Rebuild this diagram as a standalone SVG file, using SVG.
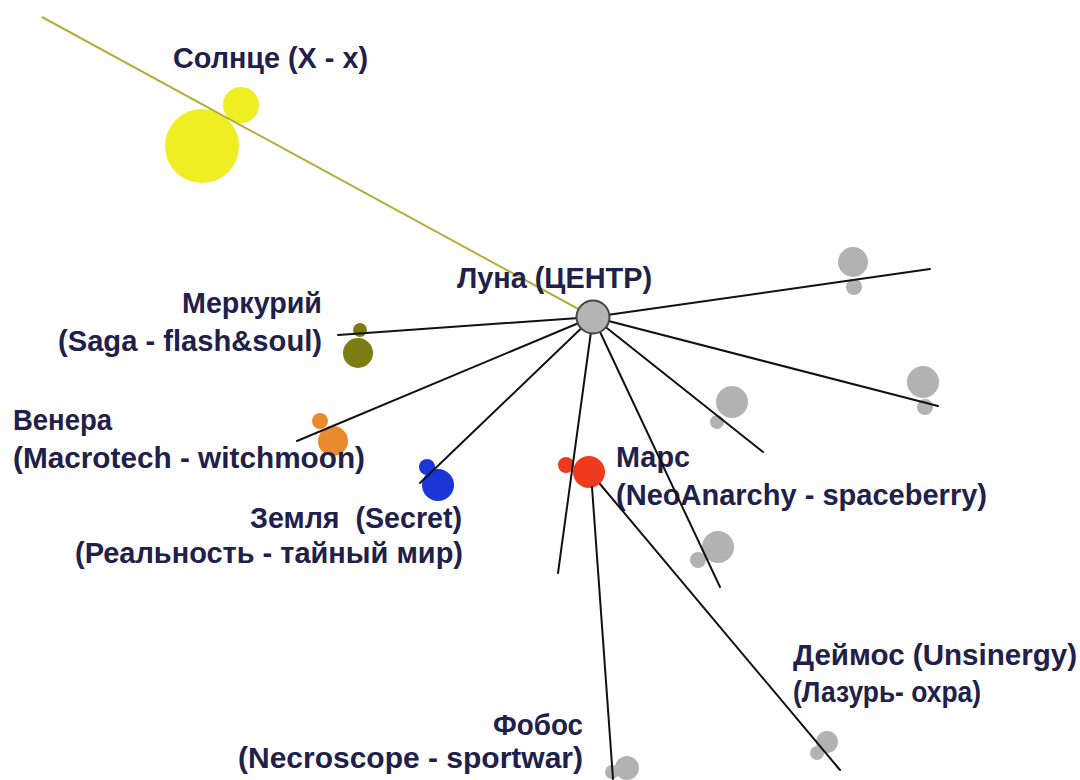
<svg xmlns="http://www.w3.org/2000/svg" width="1080" height="780" viewBox="0 0 1080 780">
<style>
text{font-family:"Liberation Sans",Arial,sans-serif;font-weight:bold;font-size:29px;fill:#20204a;white-space:pre}
.gray{fill:#b2b2b2}
.ln{stroke:#111;stroke-width:2;fill:none;stroke-linecap:round}
</style>
<rect width="1080" height="780" fill="#ffffff"/>
<g id="sun">
<circle cx="241" cy="105" r="18" fill="#eeee22"/>
<ellipse cx="202" cy="146" rx="37" ry="37" fill="#eeee22"/>
<text x="173" y="68" textLength="195" lengthAdjust="spacingAndGlyphs">Солнце (X - x)</text>
</g>
<g id="mercury">
<circle cx="360" cy="330" r="7" fill="#7b7d12"/>
<circle cx="358" cy="353" r="15" fill="#7b7d12"/>
<text x="182" y="313" textLength="140" lengthAdjust="spacingAndGlyphs">Меркурий</text>
<text x="58" y="351" textLength="264" lengthAdjust="spacingAndGlyphs">(Saga - flash&amp;soul)</text>
</g>
<g id="venus">
<circle cx="320" cy="421" r="8" fill="#e88a2e"/>
<circle cx="333" cy="441" r="15" fill="#e88a2e"/>
<text x="13" y="430" textLength="99" lengthAdjust="spacingAndGlyphs">Венера</text>
<text x="13" y="468" textLength="352" lengthAdjust="spacingAndGlyphs">(Macrotech - witchmoon)</text>
</g>
<g id="earth">
<circle cx="427" cy="467" r="8" fill="#1a35d8"/>
<circle cx="438" cy="485" r="16" fill="#1a35d8"/>
<text x="250" y="528" textLength="212" lengthAdjust="spacingAndGlyphs">Земля  (Secret)</text>
<text x="75" y="563" textLength="388" lengthAdjust="spacingAndGlyphs">(Реальность - тайный мир)</text>
</g>
<g id="mars">
<circle cx="566" cy="465" r="8" fill="#f03a1e"/>
<circle cx="589" cy="472" r="16" fill="#f03a1e"/>
<text x="616" y="467" textLength="74" lengthAdjust="spacingAndGlyphs">Марс</text>
<text x="616" y="505" textLength="371" lengthAdjust="spacingAndGlyphs">(NeoAnarchy - spaceberry)</text>
</g>
<g id="deimos">
<circle cx="827" cy="742" r="11" class="gray"/>
<circle cx="817" cy="753" r="7" class="gray"/>
<text x="793" y="665" textLength="284" lengthAdjust="spacingAndGlyphs">Деймос (Unsinergy)</text>
<text x="793" y="702" textLength="188" lengthAdjust="spacingAndGlyphs">(Лазурь- охра)</text>
</g>
<g id="phobos">
<circle cx="627" cy="768" r="12" class="gray"/>
<circle cx="612" cy="772" r="7" class="gray"/>
<text x="493" y="735" textLength="90" lengthAdjust="spacingAndGlyphs">Фобос</text>
<text x="238" y="768" textLength="345" lengthAdjust="spacingAndGlyphs">(Necroscope - sportwar)</text>
</g>
<g id="planet-ur">
<circle cx="853" cy="262" r="15" class="gray"/>
<circle cx="854" cy="287" r="8" class="gray"/>
</g>
<g id="planet-r">
<circle cx="923" cy="382" r="16" class="gray"/>
<circle cx="925" cy="407" r="8" class="gray"/>
</g>
<g id="planet-m">
<circle cx="732" cy="402" r="16" class="gray"/>
<circle cx="717" cy="422" r="7" class="gray"/>
</g>
<g id="planet-low">
<circle cx="718" cy="547" r="16" class="gray"/>
<circle cx="698" cy="560" r="8" class="gray"/>
</g>
<g id="connectors">
<line x1="42" y1="17" x2="593" y2="317" stroke="#b5ad3a" stroke-width="2"/>
<line class="ln" x1="593" y1="317" x2="338" y2="335"/>
<line class="ln" x1="593" y1="317" x2="297" y2="441"/>
<line class="ln" x1="593" y1="317" x2="420" y2="483" stroke-width="1.5"/>
<line class="ln" x1="593" y1="317" x2="558" y2="573"/>
<line class="ln" x1="593" y1="317" x2="720" y2="587"/>
<line class="ln" x1="593" y1="317" x2="763" y2="452"/>
<line class="ln" x1="593" y1="317" x2="938" y2="406"/>
<line class="ln" x1="593" y1="317" x2="930" y2="269"/>
<line class="ln" x1="592" y1="487" x2="613" y2="779"/>
<line class="ln" x1="600" y1="484" x2="840" y2="770"/>
</g>
<g id="luna">
<circle cx="593" cy="317" r="16.5" fill="#b4b4b4" stroke="#444" stroke-width="2"/>
<text x="457" y="288" textLength="195" lengthAdjust="spacingAndGlyphs">Луна (ЦЕНТР)</text>
</g>
</svg>
